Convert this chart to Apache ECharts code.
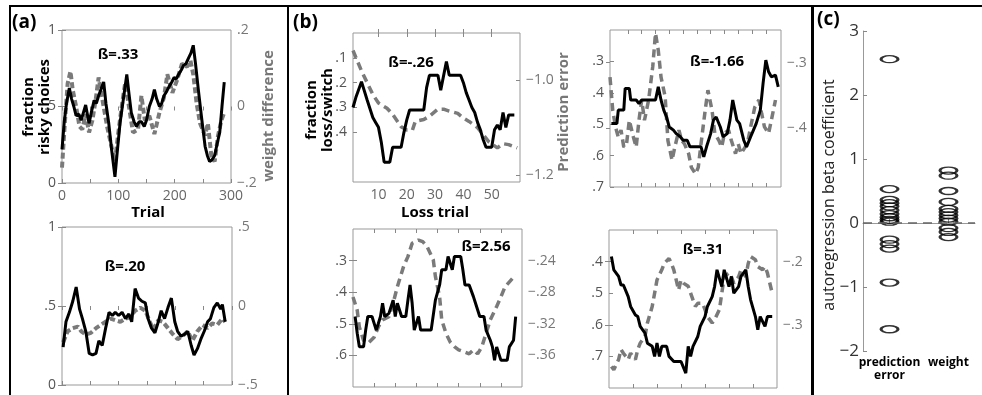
<!DOCTYPE html>
<html><head><meta charset="utf-8">
<script src="https://cdn.jsdelivr.net/npm/echarts@6/dist/echarts.min.js"></script>
<style>html,body{margin:0;padding:0;background:#fff}#c{width:982px;height:395px}</style>
</head><body><div id="c"></div>
<script>
// ---------------- data ----------------
// Panel (a) top: trial vs fraction risky choices (left) / weight difference (right)
const aTopRisky = [[0,.22],[4,.40],[8,.52],[13,.62],[17,.55],[21,.50],[25,.44],[30,.45],[34,.41],[38,.46],[42,.51],[45,.45],[48,.39],[52,.46],[57,.54],[61,.52],[65,.57],[70,.62],[74,.66],[78,.52],[83,.39],[88,.22],[94,.04],[98,.20],[103,.39],[109,.55],[115,.71],[119,.58],[123,.46],[128,.40],[132,.37],[137,.40],[141,.40],[146,.37],[150,.41],[155,.50],[160,.55],[164,.61],[168,.55],[173,.50],[177,.52],[181,.57],[186,.60],[190,.63],[195,.66],[199,.69],[203,.68],[207,.71],[212,.74],[216,.77],[220,.78],[225,.82],[229,.85],[233,.90],[237,.78],[242,.61],[248,.42],[254,.24],[258,.18],[262,.14],[266,.15],[271,.18],[275,.25],[280,.33],[284,.50],[288,.66]];
const aTopWeight = [[0,-.16],[5,-.044],[10,.06],[15,.092],[19,.044],[25,0],[31,-.052],[36,-.06],[42,-.02],[48,-.068],[54,-.036],[60,.02],[65,.076],[71,.024],[80,-.052],[89,-.112],[94,-.144],[100,-.068],[106,0],[112,.06],[118,.008],[126,-.068],[135,-.06],[141,.028],[147,-.036],[155,-.024],[164,-.072],[173,-.016],[181,.024],[187,.084],[196,.036],[204,.068],[213,.112],[222,.104],[228,.12],[233,.084],[239,.008],[245,-.044],[254,-.076],[259,-.044],[265,-.128],[271,-.144],[277,-.076],[283,-.036],[288,-.016]];
// Panel (a) bottom
const aBotRisky = [[2,.24],[7,.40],[13,.46],[19,.53],[25,.62],[31,.48],[36,.42],[42,.34],[48,.20],[54,.19],[60,.20],[65,.28],[71,.25],[77,.36],[83,.46],[89,.44],[94,.46],[100,.44],[106,.46],[112,.42],[118,.45],[123,.40],[129,.61],[135,.55],[141,.53],[147,.52],[152,.42],[158,.36],[164,.33],[170,.40],[175,.47],[181,.42],[187,.49],[193,.55],[199,.40],[204,.34],[210,.31],[216,.32],[222,.34],[228,.25],[233,.19],[239,.23],[245,.29],[251,.34],[257,.40],[262,.42],[268,.49],[274,.52],[280,.48],[283,.51],[288,.40]];
const aBotWeight = [[2,-.23],[10,-.16],[19,-.14],[28,-.13],[34,-.16],[42,-.18],[51,-.17],[60,-.14],[68,-.12],[77,-.10],[86,-.08],[94,-.09],[103,-.10],[112,-.08],[120,-.07],[129,-.03],[138,-.01],[147,-.03],[155,-.10],[161,-.15],[170,-.09],[178,-.10],[187,-.14],[196,-.18],[204,-.21],[213,-.19],[222,-.16],[230,-.22],[239,-.16],[248,-.12],[257,-.14],[265,-.11],[274,-.12],[283,-.08],[288,-.10]];
// Panel (b) top-left: loss trial vs fraction loss/switch (left, inverted) / prediction error (right)
const bTLfrac = [[1,.30],[2,.26],[4,.196],[6,.27],[8,.34],[9,.36],[10,.38],[11,.44],[12,.52],[14,.52],[15,.46],[18,.46],[19,.40],[20,.35],[21,.31],[26,.31],[27,.22],[28,.17],[31,.17],[32,.23],[34,.115],[35,.17],[39,.17],[40,.20],[41,.24],[42,.27],[43,.30],[44,.32],[45,.36],[46,.39],[47,.43],[48,.46],[50,.46],[51,.39],[52,.37],[53,.39],[54,.32],[55,.38],[56,.33],[58,.33]];
const bTLpe = [[1,-.937],[4,-.98],[6,-1.005],[8,-1.03],[10,-1.048],[13,-1.059],[15,-1.072],[18,-1.098],[20,-1.105],[22,-1.105],[23,-1.087],[26,-1.083],[28,-1.076],[31,-1.061],[33,-1.061],[35,-1.065],[38,-1.07],[40,-1.08],[42,-1.087],[45,-1.10],[47,-1.115],[49,-1.13],[52,-1.143],[54,-1.134],[56,-1.136],[59,-1.143]];
// Panel (b) top-right
const bTRfrac = [[1,.498],[5,.498],[6,.455],[10,.455],[11,.386],[14,.386],[15,.423],[19,.423],[21,.434],[23,.423],[33,.423],[35,.381],[37,.423],[39,.455],[41,.477],[43,.509],[46,.519],[48,.53],[51,.54],[53,.551],[56,.551],[58,.572],[66,.572],[68,.604],[70,.572],[73,.53],[75,.487],[77,.477],[80,.509],[82,.54],[85,.53],[87,.487],[89,.423],[92,.487],[94,.498],[97,.551],[99,.572],[102,.54],[104,.519],[106,.498],[109,.455],[111,.37],[113,.296],[115,.333],[117,.349],[120,.344],[122,.381]];
const bTRpe = [[0,-.322],[2,-.373],[4,-.398],[6,-.414],[8,-.403],[10,-.429],[12,-.424],[14,-.388],[17,-.414],[19,-.429],[21,-.388],[23,-.357],[25,-.388],[28,-.357],[31,-.306],[33,-.255],[35,-.281],[37,-.322],[40,-.352],[42,-.419],[45,-.449],[47,-.429],[50,-.403],[52,-.419],[54,-.424],[57,-.439],[59,-.46],[62,-.47],[64,-.46],[66,-.424],[69,-.373],[71,-.342],[74,-.373],[76,-.408],[79,-.419],[81,-.429],[83,-.408],[86,-.403],[88,-.419],[91,-.439],[93,-.424],[95,-.439],[98,-.429],[100,-.419],[103,-.388],[105,-.368],[108,-.357],[110,-.378],[112,-.398],[115,-.408],[117,-.388],[120,-.357]];
// Panel (b) bottom-left
const bBLfrac = [[1,.477],[2,.53],[3,.573],[5,.573],[6,.52],[7,.477],[9,.477],[11,.52],[12,.499],[13,.477],[14,.435],[15,.477],[17,.467],[19,.425],[20,.477],[21,.435],[23,.477],[25,.477],[26,.425],[27,.377],[28,.435],[29,.52],[31,.477],[32,.52],[37,.52],[39,.425],[41,.377],[42,.329],[44,.329],[45,.287],[47,.329],[48,.287],[51,.287],[52,.329],[53,.377],[55,.377],[57,.414],[58,.435],[60,.477],[62,.477],[63,.52],[65,.552],[66,.573],[67,.615],[68,.573],[70,.615],[73,.615],[74,.573],[76,.552],[77,.477]];
const bBLpe = [[0,-.286],[2,-.303],[3,-.324],[5,-.341],[7,-.345],[10,-.337],[12,-.324],[14,-.315],[17,-.311],[19,-.294],[21,-.273],[24,-.247],[26,-.235],[28,-.218],[31,-.214],[33,-.216],[35,-.222],[38,-.239],[39,-.26],[41,-.286],[42,-.315],[44,-.332],[46,-.343],[48,-.349],[50,-.353],[53,-.356],[55,-.358],[57,-.353],[59,-.358],[61,-.349],[63,-.332],[65,-.315],[68,-.298],[70,-.286],[72,-.273],[75,-.264],[77,-.258]];
// Panel (b) bottom-right
const bBRfrac = [[1,.384],[2,.426],[4,.447],[5,.474],[6,.474],[8,.511],[9,.542],[11,.569],[12,.574],[13,.605],[15,.626],[16,.658],[18,.668],[19,.70],[20,.658],[21,.70],[22,.668],[24,.668],[25,.70],[27,.716],[30,.716],[32,.753],[33,.668],[34,.70],[35,.668],[37,.637],[38,.605],[40,.574],[41,.542],[43,.511],[44,.479],[45,.426],[47,.479],[48,.426],[50,.479],[51,.447],[52,.50],[54,.479],[55,.447],[57,.426],[58,.479],[59,.521],[61,.574],[62,.616],[63,.574],[65,.605],[66,.574],[68,.574]];
const bBRpe = [[1,-.366],[2,-.371],[4,-.355],[5,-.339],[6,-.345],[8,-.355],[9,-.345],[11,-.355],[12,-.339],[13,-.329],[15,-.318],[16,-.297],[18,-.271],[19,-.25],[20,-.229],[22,-.213],[23,-.203],[25,-.195],[26,-.203],[27,-.213],[29,-.245],[30,-.229],[31,-.234],[33,-.239],[34,-.25],[36,-.271],[37,-.266],[39,-.266],[40,-.276],[41,-.287],[43,-.297],[44,-.292],[46,-.276],[47,-.25],[48,-.224],[50,-.218],[51,-.224],[52,-.234],[54,-.224],[55,-.213],[57,-.224],[58,-.203],[59,-.192],[61,-.197],[62,-.208],[64,-.213],[65,-.208],[66,-.218],[68,-.25]];
const betaLabels = ['ß=.33','ß=.20','ß=-.26','ß=-1.66','ß=2.56','ß=.31'];
// Panel (c)
const cCategories = ['prediction\nerror','weight'];
const cPredErr = [2.56,0.53,0.36,0.31,0.26,0.20,0.14,0.09,0.05,0.02,-0.26,-0.33,-0.40,-0.93,-1.66];
const cWeight = [0.82,0.74,0.50,0.33,0.22,0.17,0.12,0.07,0.02,-0.08,-0.14,-0.22];

// ---------------- chart ----------------
const FONT = '"Open Sans", "Noto Sans", sans-serif';
function fmt(v){
  const r = +(+v).toFixed(4);
  if (r === 0) return '0';
  let s = Math.abs(r).toString();
  if (s[0] === '0') s = s.slice(1);
  return (r < 0 ? '\u2212' : '') + s;
}
const grids=[], xAxes=[], yAxes=[], series=[];
const tick = {show:true, inside:true, length:4, lineStyle:{color:'#888', width:1}};
function panel(c){
  const g = grids.length;
  grids.push({left:c.rect[0], top:c.rect[1], width:c.rect[2], height:c.rect[3], show:true,
    borderColor:'#999', borderWidth:1, containLabel:false, outerBoundsMode:'none'});
  const xl = c.x.labels ? {show:true, customValues:c.x.labels, color:'#666', fontSize:14, fontFamily:FONT, margin:6, formatter:v=>String(v)} : {show:false};
  xAxes.push({type:'value', gridIndex:g, position:'bottom', min:c.x.min, max:c.x.max,
    axisLine:{show:false}, splitLine:{show:false}, axisTick:Object.assign({customValues:c.x.ticks}, tick), axisLabel:xl});
  xAxes.push({type:'value', gridIndex:g, position:'top', min:c.x.min, max:c.x.max,
    axisLine:{show:false}, splitLine:{show:false}, axisTick:Object.assign({customValues:c.x.ticks}, tick), axisLabel:{show:false}});
  yAxes.push({type:'value', gridIndex:g, position:'left', inverse:!!c.yl.inverse, min:c.yl.min, max:c.yl.max,
    axisLine:{show:false}, splitLine:{show:false}, axisTick:Object.assign({customValues:c.yl.ticks}, tick),
    axisLabel:{customValues:c.yl.ticks, color:'#555', fontSize:14, fontFamily:FONT, margin:6, formatter:c.yl.fmt||fmt}});
  yAxes.push({type:'value', gridIndex:g, position:'right', min:c.yr.min, max:c.yr.max,
    axisLine:{show:false}, splitLine:{show:false}, axisTick:Object.assign({customValues:c.yr.ticks}, tick),
    axisLabel:{customValues:c.yr.ticks, color:'#777', fontSize:14, fontFamily:FONT, margin:6, formatter:c.yr.fmt||fmt}});
  series.push({type:'line', xAxisIndex:2*g, yAxisIndex:2*g+1, data:c.gray, showSymbol:false, symbol:'none', z:2,
    lineStyle:{color:'#7a7a7a', width:c.gw||3.5, type:c.dash||[8,5]}});
  series.push({type:'line', xAxisIndex:2*g, yAxisIndex:2*g, data:c.black, showSymbol:false, symbol:'none', z:3,
    lineStyle:{color:'#000', width:3}});
}
panel({rect:[62,30,169,153], x:{min:0,max:300,ticks:[0,50,100,150,200,250,300],labels:[0,100,200,300]},
  yl:{min:0,max:1,ticks:[0,.5,1]}, yr:{min:-.2,max:.2,ticks:[-.2,0,.2]}, black:aTopRisky, gray:aTopWeight, dash:[6,3], gw:4});
panel({rect:[62,227,170,158], x:{min:0,max:300,ticks:[0,50,100,150,200,250,300]},
  yl:{min:0,max:1,ticks:[0,.5,1]}, yr:{min:-.5,max:.5,ticks:[-.5,0,.5]}, black:aBotRisky, gray:aBotWeight, dash:[6,3], gw:4});
panel({rect:[353,33,167,149], x:{min:1,max:60,ticks:[10,20,30,40,50],labels:[10,20,30,40,50]},
  yl:{min:0,max:.6,inverse:true,ticks:[.1,.2,.3,.4]}, yr:{min:-1.215,max:-.9,ticks:[-1.2,-1.0],fmt:v=>'\u2212'+Math.abs(v).toFixed(1)},
  black:bTLfrac, gray:bTLpe});
panel({rect:[610,30,171,157], x:{min:0,max:124,ticks:[13,23,33,43,53,63,73,83,93,103,113]},
  yl:{min:.2,max:.7,inverse:true,ticks:[.3,.4,.5,.6,.7]}, yr:{min:-.49,max:-.25,ticks:[-.4,-.3]},
  black:bTRfrac, gray:bTRpe});
panel({rect:[353,229,169,158], x:{min:0,max:80,ticks:[10,20,30,40,50,60,70]},
  yl:{min:.2,max:.7,inverse:true,ticks:[.3,.4,.5,.6]}, yr:{min:-.4,max:-.2,ticks:[-.36,-.32,-.28,-.24]},
  black:bBLfrac, gray:bBLpe});
panel({rect:[609,230,168,158], x:{min:0,max:70,ticks:[10,20,30,40,50,60]},
  yl:{min:.3,max:.8,inverse:true,ticks:[.4,.5,.6,.7]}, yr:{min:-.4,max:-.15,ticks:[-.3,-.2]},
  black:bBRfrac, gray:bBRpe});

// panel c
const gc = grids.length;
grids.push({left:863, top:31, width:112, height:320, show:false, containLabel:false, outerBoundsMode:'none'});
xAxes.push({type:'value', gridIndex:gc, min:0.55, max:2.45, position:'bottom',
  axisLine:{show:true, lineStyle:{color:'#999', width:1}}, splitLine:{show:false},
  axisTick:{show:true, inside:true, length:4, customValues:[1,2], lineStyle:{color:'#888'}},
  axisLabel:{show:true, customValues:[1,2], formatter:v=>cCategories[Math.round(v)-1], color:'#000', fontWeight:'bold', fontSize:12, lineHeight:13, fontFamily:FONT, margin:5}});
yAxes.push({type:'value', gridIndex:gc, min:-2, max:3, interval:1, position:'left',
  axisLine:{show:true, lineStyle:{color:'#999', width:1}}, splitLine:{show:false},
  axisTick:{show:true, inside:true, length:4, lineStyle:{color:'#888'}},
  axisLabel:{color:'#333', fontSize:17, fontFamily:FONT, margin:4, formatter:v=>v<0?'\u2212'+Math.abs(v):String(v)}});
const ell = {color:'rgba(0,0,0,0)', borderColor:'#000', borderWidth:2};
series.push({type:'scatter', xAxisIndex:2*gc, yAxisIndex:2*gc, data:cPredErr.map(v=>[1,v]), symbol:'circle', symbolSize:[17,7], itemStyle:ell, z:3,
  markLine:{silent:true, symbol:'none', label:{show:false}, lineStyle:{color:'#666', width:1.5, type:[9,6]}, data:[{yAxis:0}]}});
series.push({type:'scatter', xAxisIndex:2*gc, yAxisIndex:2*gc, data:cWeight.map(v=>[2,v]), symbol:'circle', symbolSize:[17,7], itemStyle:ell, z:3});
xAxes.push({type:'value', gridIndex:gc, show:false, min:0, max:1});
yAxes.push({type:'value', gridIndex:gc, show:false, min:0, max:1});

function txt(t, x, y, o){
  o = o || {};
  return {type:'text', x:x, y:y, rotation:o.rot||0, z:10,
    style:{text:t, x:0, y:0, fill:o.color||'#000', font:o.font||('bold 15px '+FONT), align:o.align||'center', verticalAlign:'middle', lineHeight:o.lh||16}};
}
const graphic = [
  {type:'line', shape:{x1:9,y1:6,x2:982,y2:6}, style:{stroke:'#000', lineWidth:2}},
  {type:'line', shape:{x1:10,y1:5,x2:10,y2:395}, style:{stroke:'#000', lineWidth:2}},
  {type:'line', shape:{x1:288,y1:5,x2:288,y2:395}, style:{stroke:'#000', lineWidth:2}},
  {type:'line', shape:{x1:812.5,y1:5,x2:812.5,y2:395}, style:{stroke:'#000', lineWidth:3}},
  txt('(a)', 12, 23, {align:'left', font:'bold 19px '+FONT}),
  txt('(b)', 293, 23, {align:'left', font:'bold 19px '+FONT}),
  txt('(c)', 817, 20, {align:'left', font:'bold 19px '+FONT}),
  txt(betaLabels[0], 118, 55),
  txt(betaLabels[1], 125, 267),
  txt(betaLabels[2], 411, 63),
  txt(betaLabels[3], 717, 62),
  txt(betaLabels[4], 486, 247),
  txt(betaLabels[5], 703, 250),
  txt('fraction\nrisky choices', 37, 107, {rot:Math.PI/2}),
  txt('weight difference', 269, 116, {rot:Math.PI/2, color:'#777'}),
  txt('Trial', 148, 213),
  txt('fraction\nloss/switch', 320, 110, {rot:Math.PI/2}),
  txt('Prediction error', 564, 112, {rot:Math.PI/2, color:'#777'}),
  txt('Loss trial', 435, 213),
  txt('autoregression beta coefficient', 829, 195, {rot:Math.PI/2, font:'16px '+FONT, color:'#222'})
];

const chart = echarts.init(document.getElementById('c'), null, {renderer:'canvas'});
chart.setOption({animation:false, backgroundColor:'#fff', grid:grids, xAxis:xAxes, yAxis:yAxes, series:series, graphic:graphic});
</script></body></html>
